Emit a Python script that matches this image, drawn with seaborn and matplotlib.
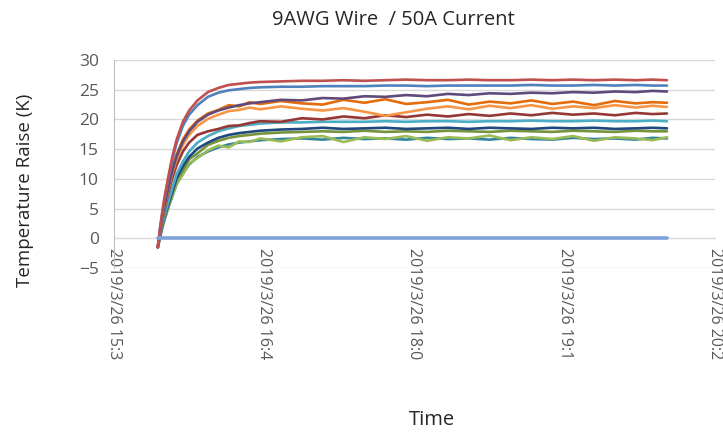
import numpy as np
import pandas as pd
import matplotlib
matplotlib.use("Agg")
import matplotlib.pyplot as plt
import seaborn as sns

# --------- data (minutes after 15:36) ----------
T = [21, 22, 23, 24, 26, 28, 30, 33, 36, 40, 45, 50, 55, 60, 65, 70, 80, 90,
     100, 110, 120, 130, 140, 150, 160, 170, 180, 190, 200, 210, 220, 230, 240, 250, 258, 265]

red = [-1.5, 1.6, 4.1, 6.5, 10.3, 13.8, 16.6, 19.6, 21.5, 23.2, 24.6, 25.3, 25.8, 26.0, 26.2, 26.3, 26.4, 26.5,
       26.5, 26.6, 26.5, 26.6, 26.7, 26.6, 26.6, 26.7, 26.6, 26.6, 26.7, 26.6, 26.7, 26.6, 26.7, 26.6, 26.7, 26.6]
blue = [-1.5, 1.5, 3.9, 6.2, 9.9, 13.3, 16.0, 18.9, 20.8, 22.4, 23.8, 24.5, 24.9, 25.1, 25.3, 25.4, 25.5, 25.5,
        25.6, 25.6, 25.6, 25.7, 25.7, 25.6, 25.7, 25.7, 25.7, 25.7, 25.8, 25.7, 25.7, 25.8, 25.7, 25.8, 25.7, 25.7]
purple = [-1.5, 1.1, 3.2, 5.2, 8.5, 11.4, 13.8, 16.3, 18.0, 19.6, 20.8, 21.5, 22.0, 22.4, 22.7, 22.9, 23.3, 23.2,
          23.6, 23.5, 23.9, 23.8, 24.1, 23.9, 24.3, 24.1, 24.4, 24.3, 24.5, 24.4, 24.6, 24.5, 24.7, 24.6, 24.8, 24.7]
orange_dark = [-1.5, 1.2, 3.3, 5.4, 8.7, 11.7, 14.1, 16.6, 18.3, 19.8, 21.0, 21.6, 22.4, 22.2, 22.9, 22.6, 23.1, 22.7,
               22.5, 23.3, 22.8, 23.4, 22.6, 22.9, 23.3, 22.5, 23.0, 22.7, 23.2, 22.6, 23.0, 22.4, 23.1, 22.7, 22.9, 22.8]
orange_light = [-1.5, 1.0, 3.0, 5.0, 8.2, 11.0, 13.3, 15.7, 17.4, 18.9, 20.1, 20.8, 21.4, 21.6, 22.0, 21.7, 22.2, 21.8,
                21.5, 21.9, 21.3, 20.6, 21.2, 21.8, 22.2, 21.7, 22.3, 21.9, 22.4, 21.8, 22.2, 21.9, 22.4, 22.0, 22.3, 22.1]
dark_red = [-1.5, 0.8, 2.8, 4.6, 7.6, 10.2, 12.3, 14.6, 16.1, 17.4, 18.0, 18.4, 18.9, 19.0, 19.4, 19.7, 19.6, 20.2,
            20.0, 20.5, 20.2, 20.7, 20.4, 20.8, 20.5, 20.9, 20.6, 21.0, 20.7, 21.1, 20.8, 21.0, 20.7, 21.1, 20.9, 21.0]
cyan = [-1.5, 0.4, 2.1, 3.6, 6.1, 8.5, 10.8, 12.9, 14.6, 16.1, 17.2, 18.0, 18.5, 18.9, 19.1, 19.3, 19.5, 19.5,
        19.6, 19.6, 19.6, 19.7, 19.6, 19.7, 19.7, 19.6, 19.7, 19.7, 19.8, 19.7, 19.7, 19.8, 19.7, 19.7, 19.8, 19.7]
navy = [-1.5, 0.3, 1.9, 3.3, 5.7, 7.9, 10.1, 12.1, 13.7, 15.1, 16.1, 16.9, 17.4, 17.7, 17.9, 18.1, 18.3, 18.4,
        18.6, 18.4, 18.5, 18.6, 18.4, 18.5, 18.6, 18.4, 18.6, 18.5, 18.4, 18.6, 18.5, 18.6, 18.4, 18.5, 18.6, 18.5]
olive = [-1.5, 0.3, 1.8, 3.2, 5.5, 7.7, 9.8, 11.4, 13.3, 14.3, 15.7, 16.4, 16.9, 17.2, 17.4, 17.6, 17.8, 17.9,
         18.0, 17.9, 18.1, 17.9, 18.0, 17.9, 18.1, 18.0, 17.9, 18.1, 18.0, 17.9, 18.1, 18.0, 17.9, 18.1, 18.0, 18.0]
light_green = [-1.5, 0.2, 1.6, 2.9, 5.2, 7.2, 9.2, 10.7, 12.6, 13.5, 14.8, 15.6, 15.3, 16.3, 16.2, 16.8, 16.3, 17.0,
               17.2, 16.2, 17.0, 16.7, 17.2, 16.4, 17.0, 16.8, 17.3, 16.5, 17.0, 16.7, 17.2, 16.4, 17.0, 16.8, 16.5, 17.0]
teal = [-1.5, 0.1, 1.6, 2.9, 5.1, 7.1, 9.1, 10.9, 12.4, 13.7, 14.6, 15.3, 15.8, 16.1, 16.3, 16.5, 16.7, 16.8,
        16.6, 16.9, 16.7, 16.8, 16.6, 16.9, 16.7, 16.8, 16.6, 16.9, 16.7, 16.6, 16.9, 16.7, 16.8, 16.6, 16.9, 16.8]

T_BASE = [21, 265]
base = [0.0, 0.0]

TICK_POS = [0, 72, 144, 216, 288]
TICK_LABELS = ["2019/3/26 15:3", "2019/3/26 16:4", "2019/3/26 18:0", "2019/3/26 19:1", "2019/3/26 20:2"]

SERIES = {
    "s2": (T, teal, "#31859C"),
    "s3": (T, light_green, "#9BBB59"),
    "s4": (T, olive, "#77933C"),
    "s5": (T, navy, "#1F497D"),
    "s6": (T, cyan, "#4BACC6"),
    "s7": (T, dark_red, "#953735"),
    "s8": (T, orange_light, "#F79646"),
    "s9": (T, orange_dark, "#E46C0A"),
    "s10": (T, purple, "#604A7B"),
    "s11": (T, blue, "#4F81BD"),
    "s12": (T, red, "#C0504D"),
}

rows = []
for name, (tt, vv, _) in SERIES.items():
    for t, v in zip(tt, vv):
        rows.append({"series": name, "t": t, "val": v})
df = pd.DataFrame(rows)
palette = {k: c for k, (_, _, c) in SERIES.items()}
df_base = pd.DataFrame({"t": T_BASE, "val": base})

sns.set_style("white")
plt.rcParams['font.family'] = ['Open Sans', 'DejaVu Sans']

fig = plt.figure(figsize=(7.23, 4.32), dpi=100)
ax = fig.add_axes([114 / 723, 1 - 268 / 432, (715 - 114) / 723, (268 - 60) / 432])

for y in range(-5, 31, 5):
    ax.axhline(y, color="#D9D9D9", lw=1.0, zorder=0)

sns.lineplot(data=df, x="t", y="val", hue="series", palette=palette,
             estimator=None, sort=False, linewidth=1.9, legend=False, ax=ax)
sns.lineplot(data=df_base, x="t", y="val", color="#7EA3DC", linewidth=2.6,
             estimator=None, legend=False, ax=ax, zorder=3)

for s in ["top", "right"]:
    ax.spines[s].set_visible(False)
ax.spines["left"].set_color("#BFBFBF")
ax.spines["bottom"].set_position(("data", 0))
ax.spines["bottom"].set_color("#D9D9D9")
ax.spines["bottom"].set_zorder(0)

ax.set_xlim(0, 288)
ax.set_ylim(-5, 30)
ax.set_yticks(range(-5, 31, 5))
ax.set_xticks(TICK_POS)
ax.set_xticklabels(TICK_LABELS, rotation=270, fontsize=11.5, color="#595959", va="top", ha="center")
ax.tick_params(axis="y", labelsize=12.5, colors="#595959", length=0, pad=11)
ax.tick_params(axis="x", length=0, pad=7)
ax.set_xlabel("")
ax.set_ylabel("")

fig.text(393 / 723, 1 - 20 / 432, "9AWG Wire  / 50A Current", ha="center", va="center", fontsize=14.5, color="#262626")
fig.text(25 / 723, 1 - 190 / 432, "Temperature Raise (K)", ha="center", va="center", rotation=90, fontsize=13.5, color="#262626")
fig.text(432 / 723, 1 - 420 / 432, "Time", ha="center", va="center", fontsize=14.5, color="#262626")

fig.savefig("out.png", dpi=100)
